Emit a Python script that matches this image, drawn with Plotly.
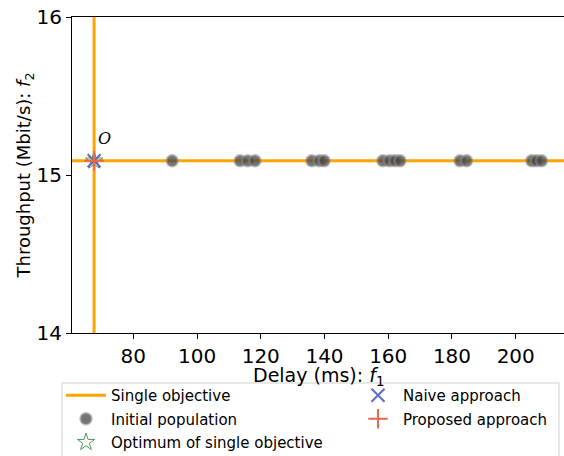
import plotly.graph_objects as go

# Data
single_obj_delay = 67.7
single_obj_throughput = 15.09
pop_delay = [92.2, 113.5, 115.9, 118.2, 136.0, 138.4, 139.9,
             158.3, 160.4, 162.1, 163.7, 182.5, 184.6, 205.0, 206.5, 208.1]
pop_throughput = [15.09] * len(pop_delay)
x_range = [60.77, 215.15]
y_range = [14.0, 16.0]
x_ticks = [80, 100, 120, 140, 160, 180, 200]
y_ticks = [14, 15, 16]

ORANGE = "#FFA500"
FONT = "DejaVu Sans"

# layout geometry (figure pixels)
W, H = 564, 456
ML, MR, MT, MB = 72, 0, 17, 123
PW, PH = W - ML - MR, H - MT - MB


def px_x(x):
    return (x - ML) / PW


def px_y(y):
    return (H - MB - y) / PH


fig = go.Figure()

fig.add_trace(go.Scatter(
    x=[x_range[0], x_range[1]], y=[single_obj_throughput, single_obj_throughput],
    mode="lines", line=dict(color=ORANGE, width=3), name="Single objective",
    legend="legend", legendgroup="a"))
fig.add_trace(go.Scatter(
    x=[single_obj_delay, single_obj_delay], y=[y_range[0], y_range[1]],
    mode="lines", line=dict(color=ORANGE, width=3), showlegend=False))

fig.add_trace(go.Scatter(
    x=pop_delay, y=pop_throughput, mode="markers", name="Initial population",
    marker=dict(size=11, color="rgba(70,70,70,0.75)",
                line=dict(color="rgba(140,140,140,0.55)", width=2.5)),
    legend="legend", legendgroup="b"))

fig.add_trace(go.Scatter(
    x=[single_obj_delay], y=[single_obj_throughput], mode="markers",
    name="Optimum of single objective",
    marker=dict(symbol="star-open", size=13, color="#4c9a5c", line=dict(width=1)),
    legend="legend", legendgroup="c"))

fig.add_trace(go.Scatter(
    x=[single_obj_delay], y=[single_obj_throughput], mode="markers",
    name="Naive approach",
    marker=dict(symbol="x-thin-open", size=13, color="#5a6bc8", line=dict(width=2, color="#5a6bc8")),
    legend="legend2", legendgroup="d"))

fig.add_trace(go.Scatter(
    x=[single_obj_delay], y=[single_obj_throughput], mode="markers",
    name="Proposed approach",
    marker=dict(symbol="cross-thin-open", size=14, color="#f0664a", line=dict(width=2, color="#f0664a")),
    legend="legend2", legendgroup="e"))

fig.add_annotation(x=single_obj_delay + 0.6, y=single_obj_throughput + 0.04,
                   text="<i>O</i>", showarrow=False, xanchor="left", yanchor="bottom",
                   yshift=4,
                   font=dict(family="DejaVu Serif", size=16, color="black"))

# x-axis title
fig.add_annotation(xref="paper", yref="paper", x=0.5, y=px_y(376),
                   text="Delay (ms): <i>f</i><sub>1</sub>", showarrow=False,
                   xanchor="center", yanchor="middle",
                   font=dict(family=FONT, size=19, color="black"))

# legend frame
fig.add_shape(type="rect", xref="paper", yref="paper",
              x0=px_x(62), x1=px_x(559), y0=px_y(478), y1=px_y(383),
              line=dict(color="#d0d0d0", width=1), fillcolor="rgba(255,255,255,0.8)",
              layer="below")

leg_common = dict(xanchor="left", yanchor="top", bgcolor="rgba(0,0,0,0)",
                  borderwidth=0, font=dict(family=FONT, size=15),
                  tracegroupgap=1, itemwidth=40)

fig.update_layout(
    width=W, height=H,
    margin=dict(l=ML, r=MR, t=MT, b=MB, autoexpand=False),
    paper_bgcolor="white", plot_bgcolor="white",
    font=dict(family=FONT, color="black"),
    showlegend=True,
    legend=dict(x=px_x(61), y=px_y(379), **leg_common),
    legend2=dict(x=px_x(353), y=px_y(379), **leg_common),
)
fig.update_xaxes(range=x_range, tickvals=x_ticks, showgrid=False, zeroline=False,
                 showline=True, linecolor="black", linewidth=1, mirror=True,
                 ticks="outside", ticklen=5, tickcolor="black",
                 tickfont=dict(size=20), automargin=False, ticklabeloverflow="allow")
fig.update_yaxes(range=y_range, tickvals=y_ticks, showgrid=False, zeroline=False,
                 showline=True, linecolor="black", linewidth=1, mirror=False,
                 ticks="outside", ticklen=5, tickcolor="black",
                 tickfont=dict(size=20), automargin=False, ticklabeloverflow="allow",
                 title=dict(text="Throughput (Mbit/s): <i>f</i><sub>2</sub>", font=dict(size=18), standoff=1))

fig.write_html("out.html", config={"displayModeBar": False},
               post_script="document.body.style.margin='0';")
